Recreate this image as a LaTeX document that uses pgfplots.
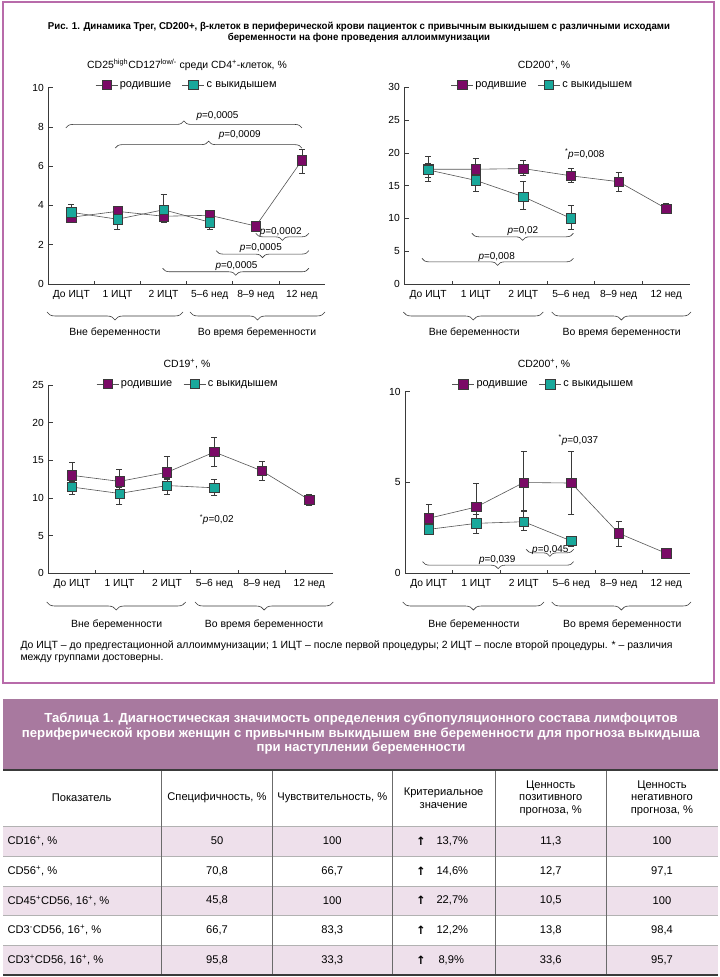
\documentclass[border=0pt]{standalone}
\usepackage{fontspec}
\setmainfont{Liberation Sans}
\newfontfamily\condfont{Liberation Sans}[FakeStretch=0.97]
\newfontfamily\djv{DejaVu Sans}
\usepackage{pgfplots}
\usepackage{pgfplotstable}
\pgfplotsset{compat=1.18}
\usetikzlibrary{decorations.pathreplacing}

\definecolor{born}{HTML}{7A0A66}
\definecolor{miss}{HTML}{19A89B}
\definecolor{axc}{HTML}{3A3A3A}
\definecolor{lnc}{HTML}{555555}
\definecolor{framec}{HTML}{B86BAA}
\definecolor{thead}{HTML}{A8799F}
\definecolor{rowpink}{HTML}{EEE0EB}

\newcommand{\setfs}[2]{\fontsize{#1}{#2}\selectfont}
\newcommand{\lgf}{\setfs{11}{12}}

% Treg
\pgfplotstableread{
x y ep em
0 3.40 0.20 0.20
1 3.70 0.25 0.25
2 3.45 0.30 0.30
3 3.50 0.20 0.20
4 2.95 0.15 0.15
5 6.30 0.58 0.65
}\tregBorn
\pgfplotstableread{
x y ep em
0 3.65 0.42 0.35
1 3.30 0.40 0.52
2 3.78 0.80 0.62
3 3.15 0.30 0.35
}\tregMiss
% CD200 (top right)
\pgfplotstableread{
x y ep em
0 17.5 1.9 1.9
1 17.5 1.7 1.5
2 17.6 1.2 1.1
3 16.5 1.1 1.05
4 15.6 1.4 1.4
5 11.5 0.8 0.7
}\cdaBorn
\pgfplotstableread{
x y ep em
0 17.4 1.0 1.2
1 15.8 1.6 1.6
2 13.3 2.3 1.9
3 10.0 1.95 1.7
}\cdaMiss
% CD19
\pgfplotstableread{
x y ep em
0 13.0 1.75 0.8
1 12.2 1.55 0.8
2 13.4 2.1 0.8
3 16.1 1.95 1.9
4 13.6 1.25 1.3
5 9.75 0.8 0.75
}\cdbBorn
\pgfplotstableread{
x y ep em
0 11.45 0.8 0.95
1 10.6 0.9 1.45
2 11.65 0.8 1.15
3 11.35 1.1 1.0
}\cdbMiss
% CD200 (bottom right)
\pgfplotstableread{
x y ep em
0 3.03 0.75 0.5
1 3.65 1.3 0.4
2 5.0 1.7 1.55
3 4.97 1.75 1.7
4 2.2 0.68 0.7
5 1.1 0.0 0.0
}\cdcBorn
\pgfplotstableread{
x y ep em
0 2.42 0.3 0.3
1 2.75 0.5 0.55
2 2.84 0.55 0.5
3 1.78 0.22 0.3
}\cdcMiss

\tikzset{brc/.style={draw=axc, line width=0.6bp, decorate}}
\pgfplotsset{
  panel/.style={
    scale only axis, clip=false,
    axis lines=left, axis line style={-, draw=axc, line width=0.7bp},
    xmin=-0.5, xmax=5.5, ymin=0,
    xtick={0,...,5},
    xticklabels={До ИЦТ,1 ИЦТ,2 ИЦТ,5–6 нед,8–9 нед,12 нед},
    xtick style={draw=none},
    ytick style={draw=axc, line width=0.7bp},
    tick align=inside, major tick length=5bp,
    tick label style={font=\setfs{10.3}{12}, text=black},
    xticklabel style={yshift=-3bp},
    yticklabel style={xshift=-1bp},
    /pgf/number format/assume math mode=true,
    legend columns=2,
    legend style={draw=none, fill=none, inner sep=0pt,
      /tikz/every even column/.append style={column sep=9bp}},
    legend image code/.code={\draw[mark repeat=2,mark phase=2,##1]
      plot coordinates {(0bp,0bp) (11bp,0bp) (22bp,0bp)};},
  },
  ebars/.style={
    error bars/y dir=both, error bars/y explicit,
    error bars/error bar style={draw=axc, line width=0.6bp},
    error bars/error mark options={rotate=90, mark size=3bp, draw=axc, line width=0.6bp},
  },
  bornp/.style={ebars, draw=lnc, line width=0.6bp, mark=square*, mark size=4.7bp,
    mark options={fill=born, draw=axc, line width=0.5bp}},
  missp/.style={ebars, draw=lnc, line width=0.6bp, mark=square*, mark size=4.7bp,
    mark options={fill=miss, draw=axc, line width=0.5bp}},
}
\newcommand{\xsep}{\pgfplotsinvokeforeach{0.5,1.5,2.5,3.5,4.5}{\draw[axc, line width=0.7bp] (axis cs:##1,0) -- ([yshift=3bp]axis cs:##1,0);}}
\newcommand{\lgd}{\legend{{\lgf родившие},{\lgf с выкидышем}}}

\begin{document}
\begin{tikzpicture}[x=1bp,y=1bp]
\path[use as bounding box] (0,0) rectangle (720,977);
\fill[white] (0,0) rectangle (720,977);

% frame of the figure
\draw[framec, line width=1.3bp] (3,294) rectangle (714,975);

% title
\node[font=\condfont\bfseries\setfs{10}{12}] at (359,950) {Рис. 1. Динамика Трег, CD200+, β-клеток в периферической крови пациенток с привычным выкидышем с различными исходами};
\node[font=\condfont\bfseries\setfs{10}{12}] at (359,939) {беременности на фоне проведения аллоиммунизации};

% panel titles
\node[font=\setfs{10.5}{12}] at (187,912) {CD25\textsuperscript{high}CD127\textsuperscript{low/-} среди CD4\textsuperscript{+}-клеток, \%};
\node[font=\setfs{10.5}{12}] at (544,912) {CD200\textsuperscript{+}, \%};
\node[font=\setfs{10.5}{12}] at (187,613) {CD19\textsuperscript{+}, \%};
\node[font=\setfs{10.5}{12}] at (544,613) {CD200\textsuperscript{+}, \%};

% ---- panel 1
\begin{axis}[panel, at={(48.3bp,693bp)}, anchor=south west,
  width=276.7bp, height=196.3bp, ymax=10, ytick={0,2,...,10},
  legend style={at={(0.169,1.014)}, anchor=west}]
\addplot[bornp] table[x=x, y=y, y error plus=ep, y error minus=em] {\tregBorn};
\addplot[missp] table[x=x, y=y, y error plus=ep, y error minus=em] {\tregMiss};
\lgd
\xsep
\draw[brc, decoration={brace, amplitude=7bp}] (axis cs:-0.12,7.95) -- (axis cs:5.0,7.95);
\node[font=\setfs{10}{12}] at (axis cs:3.17,8.55) {\textit{p}=0,0005};
\draw[brc, decoration={brace, amplitude=7bp}] (axis cs:0.95,6.92) -- (axis cs:5.0,6.92);
\node[font=\setfs{10}{12}] at (axis cs:3.65,7.59) {\textit{p}=0,0009};
\draw[brc, decoration={brace, mirror, amplitude=7bp}] (axis cs:4.0,2.58) -- (axis cs:5.15,2.58);
\node[font=\setfs{10}{12}] at (axis cs:4.54,2.66) {\textit{p}=0,0002};
\draw[brc, decoration={brace, mirror, amplitude=7bp}] (axis cs:3.14,1.70) -- (axis cs:5.15,1.70);
\node[font=\setfs{10}{12}] at (axis cs:4.11,1.84) {\textit{p}=0,0005};
\draw[brc, decoration={brace, mirror, amplitude=7bp}] (axis cs:1.98,0.80) -- (axis cs:5.15,0.80);
\node[font=\setfs{10}{12}] at (axis cs:3.58,0.92) {\textit{p}=0,0005};
\end{axis}

% ---- panel 2
\begin{axis}[panel, at={(404.3bp,693bp)}, anchor=south west,
  width=285.7bp, height=196.7bp, ymax=30, ytick={0,5,...,30},
  legend style={at={(0.162,1.012)}, anchor=west}]
\addplot[bornp] table[x=x, y=y, y error plus=ep, y error minus=em] {\cdaBorn};
\addplot[missp] table[x=x, y=y, y error plus=ep, y error minus=em] {\cdaMiss};
\lgd
\xsep
\node[font=\setfs{10}{12}] at (axis cs:3.29,19.8) {\textsuperscript{*}\textit{p}=0,008};
\draw[brc, decoration={brace, mirror, amplitude=7bp}] (axis cs:0.92,7.73) -- (axis cs:3.05,7.73);
\node[font=\setfs{10}{12}] at (axis cs:1.99,8.1) {\textit{p}=0,02};
\draw[brc, decoration={brace, mirror, amplitude=7bp}] (axis cs:-0.13,3.91) -- (axis cs:3.05,3.91);
\node[font=\setfs{10}{12}] at (axis cs:1.44,4.1) {\textit{p}=0,008};
\end{axis}

% ---- panel 3
\begin{axis}[panel, at={(48.3bp,403.7bp)}, anchor=south west,
  width=284.7bp, height=188.3bp, ymax=25, ytick={0,5,...,25},
  legend style={at={(0.168,1.005)}, anchor=west}]
\addplot[bornp] table[x=x, y=y, y error plus=ep, y error minus=em] {\cdbBorn};
\addplot[missp] table[x=x, y=y, y error plus=ep, y error minus=em] {\cdbMiss};
\lgd
\xsep
\node[font=\setfs{10}{12}] at (axis cs:3.05,7.1) {\textsuperscript{*}\textit{p}=0,02};
\end{axis}

% ---- panel 4
\begin{axis}[panel, at={(405bp,403.7bp)}, anchor=south west,
  width=285bp, height=181.6bp, ymax=10, ytick={0,5,10},
  legend style={at={(0.164,1.042)}, anchor=west}]
\addplot[bornp] table[x=x, y=y, y error plus=ep, y error minus=em] {\cdcBorn};
\addplot[missp] table[x=x, y=y, y error plus=ep, y error minus=em] {\cdcMiss};
\lgd
\xsep
\node[font=\setfs{10}{12}] at (axis cs:3.15,7.34) {\textsuperscript{*}\textit{p}=0,037};
\draw[brc, decoration={brace, mirror, amplitude=7bp}] (axis cs:2.05,1.32) -- (axis cs:3.05,1.32);
\node[font=\setfs{10}{12}] at (axis cs:2.56,1.28) {\textit{p}=0,045};
\draw[brc, decoration={brace, mirror, amplitude=7bp}] (axis cs:-0.13,0.64) -- (axis cs:3.05,0.64);
\node[font=\setfs{10}{12}] at (axis cs:1.44,0.72) {\textit{p}=0,039};
\end{axis}

% group braces under the axes
\begin{scope}[axc, line width=0.6bp]
\draw[decorate, decoration={brace, mirror, amplitude=8bp}] (47,665) -- (183,665);
\draw[decorate, decoration={brace, mirror, amplitude=8bp}] (190,665) -- (325,665);
\draw[decorate, decoration={brace, mirror, amplitude=8bp}] (403.3,665) -- (543.3,665);
\draw[decorate, decoration={brace, mirror, amplitude=8bp}] (551.7,665) -- (691,665);
\draw[decorate, decoration={brace, mirror, amplitude=8bp}] (46.7,375) -- (185.7,375);
\draw[decorate, decoration={brace, mirror, amplitude=8bp}] (195,375) -- (333.3,375);
\draw[decorate, decoration={brace, mirror, amplitude=8bp}] (402.7,375) -- (544,375);
\draw[decorate, decoration={brace, mirror, amplitude=8bp}] (551.7,375) -- (691,375);
\end{scope}
\begin{scope}[every node/.style={font=\setfs{10.5}{12}}]
\node at (115,644) {Вне беременности};
\node at (257,644) {Во время беременности};
\node at (474.3,644) {Вне беременности};
\node at (621.7,644) {Во время беременности};
\node at (116.7,352) {Вне беременности};
\node at (264,352) {Во время беременности};
\node at (474,352) {Вне беременности};
\node at (622.3,352) {Во время беременности};
\end{scope}

% footnote
\node[anchor=west, font=\setfs{10.5}{12}] at (17,331) {До ИЦТ – до предгестационной аллоиммунизации; 1 ИЦТ – после первой процедуры; 2 ИЦТ – после второй процедуры. * – различия};
\node[anchor=west, font=\setfs{10.5}{12}] at (17,318) {между группами достоверны.};

% ---- table
\fill[thead] (3,207) rectangle (718,278);
\node[text=white, font=\bfseries\setfs{13.2}{14}] at (361,258) {Таблица 1. Диагностическая значимость определения субпопуляционного состава лимфоцитов};
\node[text=white, font=\bfseries\setfs{13.2}{14}] at (361,243) {периферической крови женщин с привычным выкидышем вне беременности для прогноза выкидыша};
\node[text=white, font=\bfseries\setfs{13.2}{14}] at (361,228.5) {при наступлении беременности};

\fill[rowpink] (3,121) rectangle (718,151);
\fill[rowpink] (3,62) rectangle (718,91);
\fill[rowpink] (3,2) rectangle (718,32);
\foreach \yy in {151,121,91,62,32} \draw[gray!60, line width=0.8bp] (3,\yy) -- (718,\yy);
\foreach \xx in {161.7,272.3,392.3,495,606.7} \draw[axc!75, line width=0.8bp] (\xx,207) -- (\xx,2);
\draw[axc, line width=1.4bp] (3,207) -- (718,207);
\draw[axc, line width=1.4bp] (3,2) -- (718,2);

\begin{scope}[every node/.style={font=\setfs{11.2}{12.5}, align=center}]
\node at (81.7,179) {Показатель};
\node at (217,179) {Специфичность, \%};
\node at (332.3,179) {Чувствительность, \%};
\node at (443.6,179) {Критериальное\\значение};
\node at (550.8,179) {Ценность\\позитивного\\прогноза, \%};
\node at (662,179) {Ценность\\негативного\\прогноза, \%};

\node[anchor=west] at (4,136) {CD16\textsuperscript{+}, \%};
\node[anchor=west] at (4,106) {CD56\textsuperscript{+}, \%};
\node[anchor=west] at (4,76.5) {CD45\textsuperscript{+}CD56, 16\textsuperscript{+}, \%};
\node[anchor=west] at (4,47) {CD3\textsuperscript{-}CD56, 16\textsuperscript{+}, \%};
\node[anchor=west] at (4,17) {CD3\textsuperscript{+}CD56, 16\textsuperscript{+}, \%};

\node at (217,136) {50};   \node at (332.3,136) {100};  \node at (550.8,136) {11,3}; \node at (662,136) {100};
\node at (217,106) {70,8}; \node at (332.3,106) {66,7}; \node at (550.8,106) {12,7}; \node at (662,106) {97,1};
\node at (217,76.5) {45,8}; \node at (332.3,76.5) {100}; \node at (550.8,76.5) {10,5}; \node at (662,76.5) {100};
\node at (217,47) {66,7};  \node at (332.3,47) {83,3};  \node at (550.8,47) {13,8}; \node at (662,47) {98,4};
\node at (217,17) {95,8};  \node at (332.3,17) {33,3};  \node at (550.8,17) {33,6}; \node at (662,17) {95,7};

\node[font=\djv\bfseries\setfs{11.5}{12}] at (421,136) {↑}; \node[anchor=west] at (433,136) {13,7\%};
\node[font=\djv\bfseries\setfs{11.5}{12}] at (421,106) {↑}; \node[anchor=west] at (433,106) {14,6\%};
\node[font=\djv\bfseries\setfs{11.5}{12}] at (421,76.5) {↑}; \node[anchor=west] at (433,76.5) {22,7\%};
\node[font=\djv\bfseries\setfs{11.5}{12}] at (421,47) {↑}; \node[anchor=west] at (433,47) {12,2\%};
\node[font=\djv\bfseries\setfs{11.5}{12}] at (421,17) {↑}; \node[anchor=west] at (435,17) {8,9\%};
\end{scope}
\end{tikzpicture}
\end{document}
